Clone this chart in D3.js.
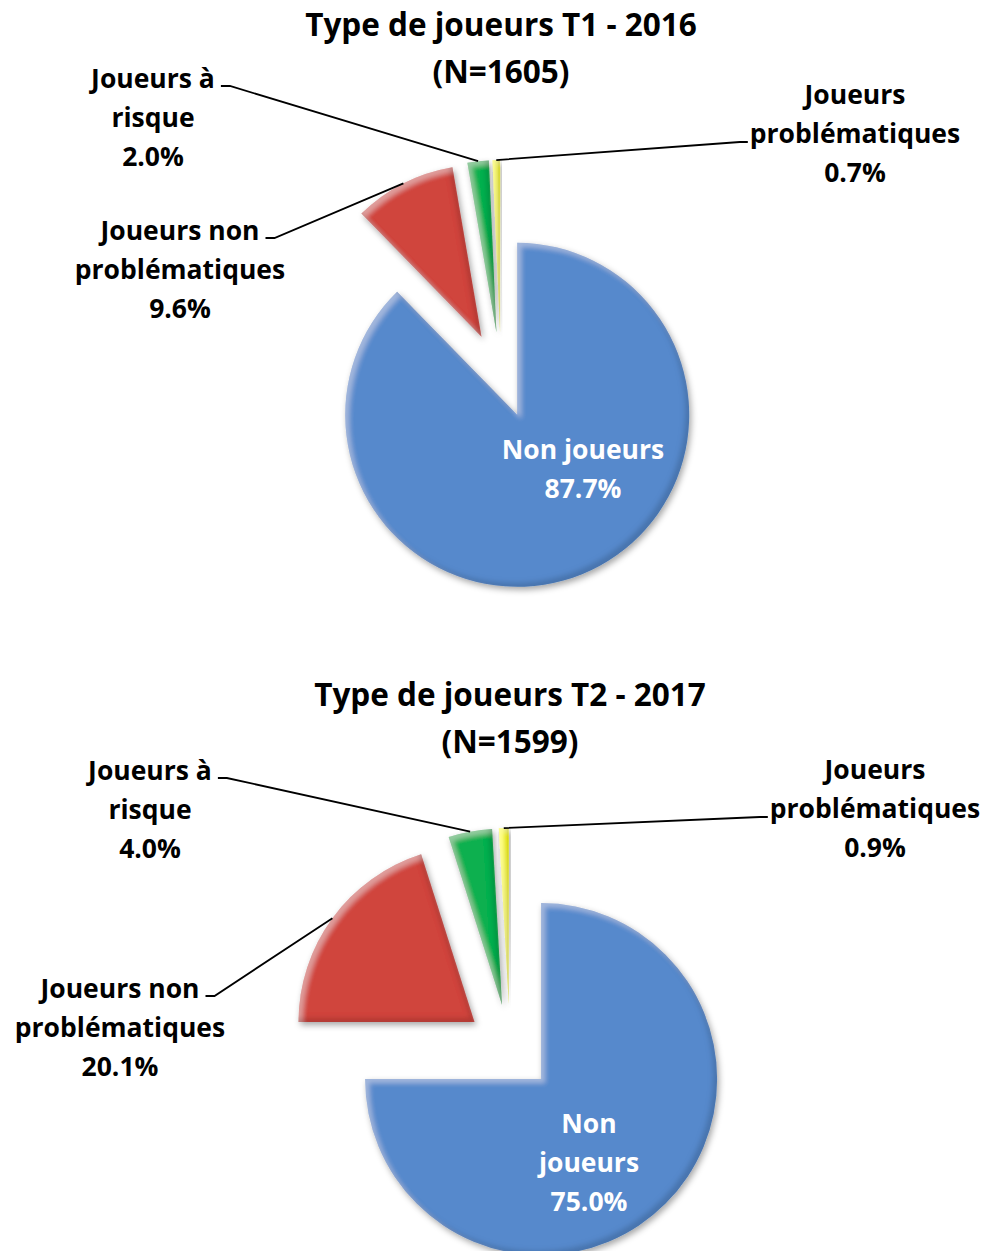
<!DOCTYPE html>
<html>
<head>
<meta charset="utf-8">
<script src="https://cdn.jsdelivr.net/npm/d3@7"></script>
<style>
  body { margin: 0; background: #fff; }
  text { font-family: "Open Sans", sans-serif; font-weight: bold; }
</style>
</head>
<body>
<div class="canvas"></div>
<script>
// data
const categories = ["Non joueurs", "Joueurs non problématiques", "Joueurs à risque", "Joueurs problématiques"]
const values2016 = [87.7, 9.6, 2.0, 0.7]
const values2017 = [75.0, 20.1, 4.0, 0.9]
const titles2016 = ["Type de joueurs T1 - 2016", "(N=1605)"]
const titles2017 = ["Type de joueurs T2 - 2017", "(N=1599)"]
// how each category label breaks into lines in each chart
const labelLines2016 = [["Non joueurs"], ["Joueurs non", "problématiques"], ["Joueurs à", "risque"], ["Joueurs", "problématiques"]]
const labelLines2017 = [["Non", "joueurs"], ["Joueurs non", "problématiques"], ["Joueurs à", "risque"], ["Joueurs", "problématiques"]]

const colors = ["#5689cc", "#d0443e", "#0db04f", "#ffff00"]

const W = 987, H = 1251
const lineH = 39

const svg = d3.select(".canvas")
            .append("svg")
            .attr("width", W)
            .attr("height", H)

// bevel + shadow filter, close to the office "soft round" look
const defs = svg.append("defs")
const f = defs.append("filter").attr("id", "bevel")
  .attr("x", "-20%").attr("y", "-20%").attr("width", "140%").attr("height", "140%")
f.append("feGaussianBlur").attr("in", "SourceAlpha").attr("stdDeviation", 3).attr("result", "sb")
f.append("feOffset").attr("in", "sb").attr("dx", 2).attr("dy", 3).attr("result", "so")
f.append("feFlood").attr("flood-color", "#000").attr("flood-opacity", 0.35)
f.append("feComposite").attr("in2", "so").attr("operator", "in").attr("result", "shadow")
f.append("feGaussianBlur").attr("in", "SourceAlpha").attr("stdDeviation", 2.5).attr("result", "b")
f.append("feOffset").attr("in", "b").attr("dx", 4).attr("dy", 4).attr("result", "bDR")
f.append("feOffset").attr("in", "b").attr("dx", -4).attr("dy", -4).attr("result", "bUL")
f.append("feComposite").attr("in", "SourceAlpha").attr("in2", "bDR").attr("operator", "out").attr("result", "hiMask")
f.append("feFlood").attr("flood-color", "#fff").attr("flood-opacity", 0.3)
f.append("feComposite").attr("in2", "hiMask").attr("operator", "in").attr("result", "hi")
f.append("feComposite").attr("in", "SourceAlpha").attr("in2", "bUL").attr("operator", "out").attr("result", "loMask")
f.append("feFlood").attr("flood-color", "#000").attr("flood-opacity", 0.3)
f.append("feComposite").attr("in2", "loMask").attr("operator", "in").attr("result", "lo")
const merge = f.append("feMerge")
merge.append("feMergeNode").attr("in", "shadow")
merge.append("feMergeNode").attr("in", "SourceGraphic")
merge.append("feMergeNode").attr("in", "hi")
merge.append("feMergeNode").attr("in", "lo")

// layout for the two charts
const charts = [
  { values: values2016, titles: titles2016, lines: labelLines2016,
    cx: 501, cy: 375, r: 172, titleY: 36,
    labels: [ {x: 583, y: 459, side: "in"},
              {x: 180, y: 240, side: "left"},
              {x: 153, y: 88,  side: "left"},
              {x: 855, y: 104, side: "right"} ] },
  { values: values2017, titles: titles2017, lines: labelLines2017,
    cx: 510, cy: 1048, r: 176, titleY: 706,
    labels: [ {x: 589, y: 1133, side: "in"},
              {x: 120, y: 998, side: "left"},
              {x: 150, y: 780, side: "left"},
              {x: 875, y: 779, side: "right"} ] }
]

const pie = d3.pie().sort(null).value(d => d)
const fmt = d3.format(".1f")

charts.forEach(c => {
  const explode = c.r * 0.25
  const arcs = pie(c.values)
  const arc = d3.arc().innerRadius(0).outerRadius(c.r)
  const g = svg.append("g").attr("transform", `translate(${c.cx}, ${c.cy})`)

  const mid = d => (d.startAngle + d.endAngle) / 2

  g.selectAll("path.slice")
    .data(arcs)
    .enter()
    .append("path")
    .attr("class", "slice")
    .attr("transform", d => `translate(${d3.pointRadial(mid(d), explode)})`)
    .attr("d", arc)
    .attr("fill", (d, i) => colors[i])
    .attr("filter", "url(#bevel)")

  // title
  svg.append("text")
    .attr("x", c.cx).attr("y", c.titleY)
    .attr("text-anchor", "middle")
    .attr("font-size", 31.5)
    .selectAll("tspan")
    .data(c.titles)
    .enter()
    .append("tspan")
    .attr("x", c.cx)
    .attr("dy", (d, i) => i ? 47 : 0)
    .text(d => d)

  // labels
  arcs.forEach((d, i) => {
    const lab = c.labels[i]
    const lines = c.lines[i].concat([fmt(c.values[i]) + "%"])
    const t = svg.append("text")
      .attr("text-anchor", "middle")
      .attr("font-size", 26.5)
      .attr("fill", lab.side === "in" ? "#fff" : "#000")
    const spans = t.selectAll("tspan")
      .data(lines)
      .enter()
      .append("tspan")
      .attr("x", lab.x)
      .attr("y", (s, k) => lab.y + k * lineH)
      .text(s => s)

    if (lab.side === "in") return

    // leader line to the middle of the slice's outer arc
    const off = d3.pointRadial(mid(d), explode)
    const edge = d3.pointRadial(mid(d), c.r)
    const end = [c.cx + off[0] + edge[0], c.cy + off[1] + edge[1]]
    let pts
    if (lab.side === "left") {
      const w = spans.nodes()[0].getComputedTextLength()
      const x0 = lab.x + w / 2 + 6
      const y0 = lab.y - 2
      pts = [[x0, y0], [x0 + 9, y0], end]
    } else {
      const w = spans.nodes()[1].getComputedTextLength()
      const x0 = lab.x - w / 2 - 2
      const y0 = lab.y + lineH - 1
      pts = [[x0, y0], [x0 - 8, y0], end]
    }
    svg.append("path")
      .attr("d", d3.line()(pts))
      .attr("fill", "none")
      .attr("stroke", "#000")
      .attr("stroke-width", 1.8)
  })
})
</script>
</body>
</html>
